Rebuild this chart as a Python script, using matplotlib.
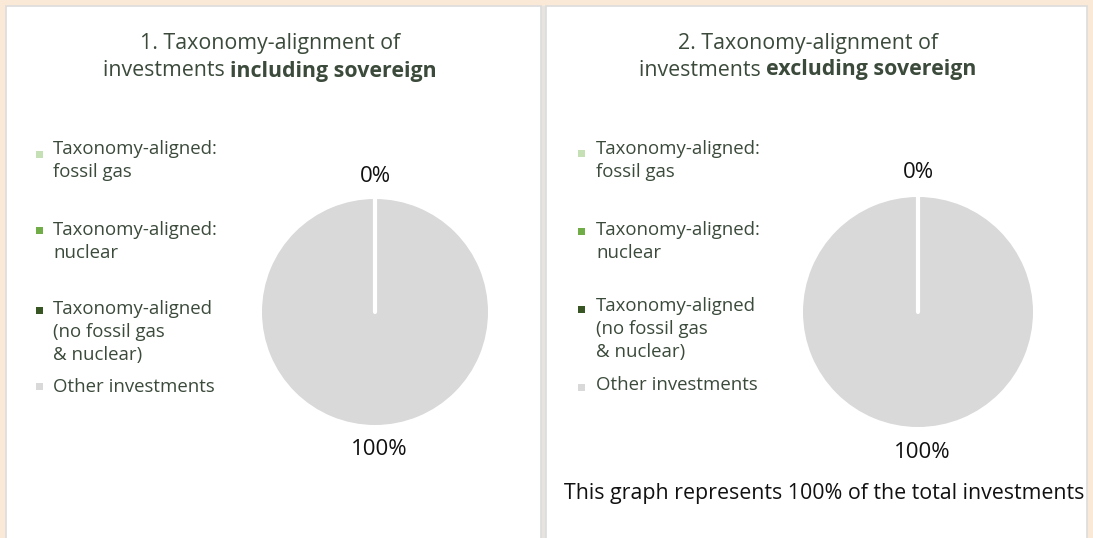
import numpy as np
import matplotlib
matplotlib.use('Agg')
import matplotlib.pyplot as plt
from matplotlib.patches import Rectangle

plt.rcParams['font.family'] = ['Open Sans', 'DejaVu Sans']

# data
categories = ['Taxonomy-aligned:\nfossil gas',
              'Taxonomy-aligned:\nnuclear',
              'Taxonomy-aligned\n(no fossil gas\n& nuclear)',
              'Other investments']
colors = ['#c5e0b4', '#70ad47', '#375623', '#d9d9d9']
incl_sovereign = [0, 0, 0, 100]
excl_sovereign = [0, 0, 0, 100]
titles = [('1. Taxonomy-alignment of', 'investments ', 'including sovereign'),
          ('2. Taxonomy-alignment of', 'investments ', 'excluding sovereign')]
footer = 'This graph represents 100% of the total investments'

W, H = 1093, 538
TXT = '#3b4a3b'

fig = plt.figure(figsize=(W / 100, H / 100), dpi=100)
fig.patch.set_facecolor('#fbe9d7')
bg = fig.add_axes([0, 0, 1, 1])
bg.set_xlim(0, W)
bg.set_ylim(H, 0)
bg.axis('off')

# panels
bg.add_patch(Rectangle((541, 6), 5, H, facecolor='#e6e3e0', edgecolor='none'))
for x0, x1 in [(6, 541), (546, 1087)]:
    bg.add_patch(Rectangle((x0, 6), x1 - x0, H, facecolor='white',
                           edgecolor='#dcdcdc', linewidth=1.2))

renderer = fig.canvas.get_renderer()


def title(cx, y1, y2, parts):
    first, normal, bold = parts
    bg.text(cx, y1, first, ha='center', va='center', fontsize=15.4, color=TXT)
    t1 = bg.text(0, y2, normal, fontsize=15.4, color=TXT, va='center')
    t2 = bg.text(0, y2, bold, fontsize=15.4, color=TXT, va='center',
                 fontweight='bold')
    w1 = t1.get_window_extent(renderer).width
    w2 = t2.get_window_extent(renderer).width
    start = cx - (w1 + w2) / 2
    t1.set_x(start)
    t2.set_x(start + w1)


def legend(xm, xt, ym, yt):
    for lab, col, y, ty in zip(categories, colors, ym, yt):
        bg.add_patch(Rectangle((xm - 3.5, y - 3.5), 7, 7, facecolor=col,
                               edgecolor='none'))
        bg.text(xt, ty - 7, lab, fontsize=13.4, color=TXT, va='top',
                linespacing=1.36)


def pie(cx, cy, r, vals, top_off):
    ax = fig.add_axes([(cx - r) / W, (H - cy - r) / H, 2 * r / W, 2 * r / H])
    ax.pie(vals, colors=colors, startangle=90, counterclock=False)
    # wedge borders
    bounds = np.cumsum([0] + list(vals)) / sum(vals)
    for b in np.unique(bounds[:-1]):
        a = np.pi / 2 - 2 * np.pi * b
        ax.plot([0, np.cos(a)], [0, np.sin(a)], color='white', lw=3,
                solid_capstyle='round')
    ax.set_xlim(-1, 1)
    ax.set_ylim(-1, 1)
    ax.set_aspect('auto')
    ax.axis('off')
    aligned = sum(vals[:3])
    other = vals[3]
    bg.text(cx, cy - top_off, f'{aligned:.0f}%', ha='center', va='center',
            fontsize=16, color='#111111')
    bg.text(cx + 4, cy + r * 1.22, f'{other:.0f}%', ha='center', va='center',
            fontsize=16, color='#111111')


title(270, 44, 71, titles[0])
title(808, 43, 70, titles[1])
legend(39, 53, [154, 230, 310, 386], [147, 228, 307, 385])
legend(581, 596, [153, 231, 309, 387], [147, 228, 304, 383])
pie(375, 312, 113, incl_sovereign, 136)
pie(918, 312, 115, excl_sovereign, 140)
bg.text(824, 493, footer, ha='center', va='center', fontsize=15.4,
        color='#111111')

fig.savefig('out.png', dpi=100, facecolor=fig.get_facecolor())
